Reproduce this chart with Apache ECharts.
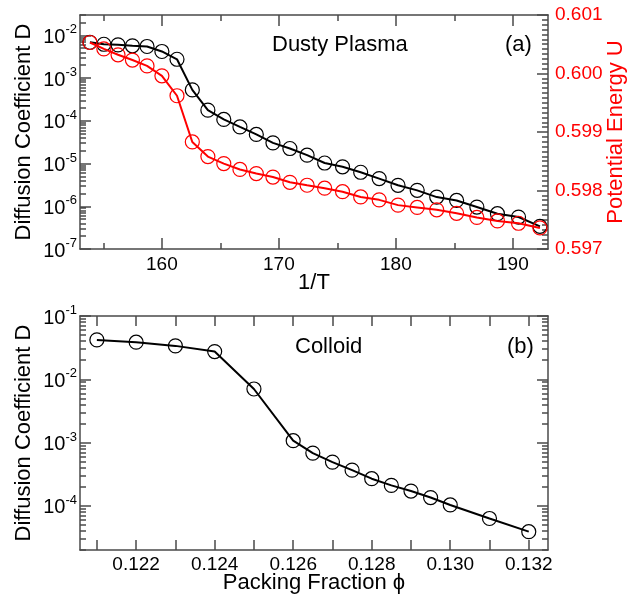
<!DOCTYPE html>
<html>
<head>
<meta charset="utf-8">
<script src="https://cdn.jsdelivr.net/npm/echarts@6/dist/echarts.min.js"></script>
<style>
html,body{margin:0;padding:0;background:#fff;}
#chart{width:632px;height:600px;}
</style>
</head>
<body>
<div id="chart"></div>
<script>
// ---- Data: panel (a) Dusty Plasma ----
const invT = [153.85,155.04,156.25,157.48,158.73,160.00,161.29,162.60,163.93,165.29,166.67,168.07,169.49,170.94,172.41,173.91,175.44,176.99,178.57,180.18,181.82,183.49,185.19,186.92,188.68,190.48,192.31];
const plasmaD = [6.9e-3,6.2e-3,6.0e-3,5.7e-3,5.5e-3,4.2e-3,2.76e-3,5.3e-4,1.78e-4,1.08e-4,7.2e-5,4.8e-5,3.05e-5,2.25e-5,1.57e-5,1.03e-5,8.4e-6,6.25e-6,4.45e-6,3.1e-6,2.36e-6,1.64e-6,1.37e-6,9.6e-7,6.7e-7,5.6e-7,3.4e-7];
const plasmaU = [0.60053,0.60042,0.60032,0.60023,0.60013,0.59996,0.59962,0.59883,0.59858,0.59846,0.59836,0.59829,0.59823,0.59814,0.59809,0.59804,0.59798,0.59789,0.59784,0.59775,0.59771,0.59767,0.59761,0.59754,0.59748,0.59744,0.59736];

// ---- Data: panel (b) Colloid ----
const phi = [0.121,0.122,0.123,0.124,0.125,0.126,0.1265,0.127,0.1275,0.128,0.1285,0.129,0.1295,0.130,0.131,0.132];
const colloidD = [0.0419,0.0386,0.0337,0.0274,0.00702,0.00107,6.8e-4,4.9e-4,3.66e-4,2.68e-4,2.1e-4,1.71e-4,1.35e-4,1.03e-4,6.3e-5,3.9e-5];

// ---- Tick values ----
const topXMajor = [160,170,180,190];
const topXMinor = [155,165,175,185];
const topYLogMajor = [1e-7,1e-6,1e-5,1e-4,1e-3,1e-2];
const botXTicks = [0.121,0.122,0.123,0.124,0.125,0.126,0.127,0.128,0.129,0.130,0.131,0.132];
const botXLabels = [0.122,0.124,0.126,0.128,0.130,0.132];
const botYLogMajor = [1e-4,1e-3,1e-2,1e-1];

function logMinor(lo, hi) {
  const out = [];
  for (let k = -8; k <= 0; k++) {
    for (let m = 2; m <= 9; m++) {
      const v = parseFloat((m * Math.pow(10, k)).toPrecision(6));
      if (v >= lo && v <= hi) out.push(v);
    }
  }
  return out;
}

const FONT = '"Liberation Sans", Arial, Helvetica, sans-serif';
const FRAME = '#4a4a4a';
const lineStyle = { color: FRAME, width: 1.5 };
const tickStyle = { color: FRAME, width: 1.5 };

function powLabel(v) {
  const e = Math.round(Math.log10(v));
  return '{b|10}{s|' + e + '}';
}
const powRich = {
  b: { fontSize: 20, fontFamily: FONT, color: '#000', verticalAlign: 'bottom', lineHeight: 24 },
  s: { fontSize: 13, fontFamily: FONT, color: '#000', verticalAlign: 'top', lineHeight: 13 }
};

function xAx(grid, pos, min, max, tickVals, len, opts) {
  return Object.assign({
    type: 'value', gridIndex: grid, position: pos, min: min, max: max,
    axisLine: { show: false, lineStyle: lineStyle },
    axisTick: { show: true, inside: true, length: len, customValues: tickVals, lineStyle: tickStyle },
    axisLabel: { show: false },
    splitLine: { show: false }
  }, opts || {});
}

const chart = echarts.init(document.getElementById('chart'), null, { renderer: 'canvas' });

const option = {
  animation: false,
  backgroundColor: '#fff',
  grid: [
    { left: 80, top: 15, width: 468, height: 234, outerBoundsMode: 'none' },
    { left: 80, top: 316, width: 468, height: 234, outerBoundsMode: 'none' }
  ],
  xAxis: [
    xAx(0, 'bottom', 153, 193, topXMajor, 11, {
      axisLine: { show: true, lineStyle: lineStyle },
      axisLabel: { show: true, customValues: topXMajor, fontSize: 19, fontFamily: FONT, color: '#000', margin: 6 },
      name: '1/T', nameLocation: 'middle', nameGap: 23, nameMoveOverlap: false,
      nameTextStyle: { fontSize: 22, fontFamily: FONT, color: '#000' }
    }),
    xAx(0, 'bottom', 153, 193, topXMinor, 6),
    xAx(0, 'top', 153, 193, topXMajor, 11, { axisLine: { show: true, lineStyle: lineStyle } }),
    xAx(0, 'top', 153, 193, topXMinor, 6),
    xAx(1, 'bottom', 0.12057, 0.13249, botXTicks, 10, {
      axisLine: { show: true, lineStyle: lineStyle },
      axisLabel: { show: true, customValues: botXLabels, fontSize: 19, fontFamily: FONT, color: '#000', margin: 5,
        formatter: v => v.toFixed(3) },
      name: 'Packing Fraction \u03D5', nameLocation: 'middle', nameGap: 22, nameMoveOverlap: false,
      nameTextStyle: { fontSize: 22, fontFamily: FONT, color: '#000' }
    }),
    xAx(1, 'top', 0.12057, 0.13249, botXTicks, 10, { axisLine: { show: true, lineStyle: lineStyle } })
  ],
  yAxis: [
    // 0: panel (a) left log, major ticks + labels
    xAx(0, 'left', 1e-7, 3e-2, topYLogMajor, 11, {
      type: 'log', logBase: 10,
      axisLine: { show: true, lineStyle: lineStyle },
      axisLabel: { show: true, customValues: topYLogMajor, margin: 3, formatter: powLabel, rich: powRich },
      name: 'Diffusion Coefficient D', nameLocation: 'middle', nameGap: 45, nameRotate: 90, nameMoveOverlap: false,
      nameTextStyle: { fontSize: 22, fontFamily: FONT, color: '#000' }
    }),
    // 1: panel (a) left log minor ticks
    xAx(0, 'left', 1e-7, 3e-2, logMinor(1e-7, 3e-2), 6, { type: 'log', logBase: 10 }),
    // 2: panel (a) right potential energy
    {
      type: 'value', gridIndex: 0, position: 'right', min: 0.597, max: 0.601, interval: 0.001,
      axisLine: { show: true, lineStyle: lineStyle },
      axisTick: { show: true, inside: true, length: 11, lineStyle: tickStyle },
      minorTick: { show: true, splitNumber: 12, length: 6, lineStyle: tickStyle },
      axisLabel: { show: true, fontSize: 19, fontFamily: FONT, color: '#ff0000', margin: 7,
        formatter: v => v.toFixed(3) },
      splitLine: { show: false }, minorSplitLine: { show: false },
      name: 'Potential Energy U', nameLocation: 'middle', nameGap: 57, nameRotate: 90, nameMoveOverlap: false,
      nameTextStyle: { fontSize: 22, fontFamily: FONT, color: '#ff0000' }
    },
    // 3: panel (b) left log, major ticks + labels
    xAx(1, 'left', 2e-5, 1e-1, botYLogMajor, 11, {
      type: 'log', logBase: 10,
      axisLine: { show: true, lineStyle: lineStyle },
      axisLabel: { show: true, customValues: botYLogMajor, margin: 3, formatter: powLabel, rich: powRich },
      name: 'Diffusion Coefficient D', nameLocation: 'middle', nameGap: 45, nameRotate: 90, nameMoveOverlap: false,
      nameTextStyle: { fontSize: 22, fontFamily: FONT, color: '#000' }
    }),
    // 4: panel (b) left log minor
    xAx(1, 'left', 2e-5, 1e-1, logMinor(2e-5, 1e-1), 6, { type: 'log', logBase: 10 }),
    // 5: panel (b) right log major
    xAx(1, 'right', 2e-5, 1e-1, botYLogMajor, 11, { type: 'log', logBase: 10, axisLine: { show: true, lineStyle: lineStyle } }),
    // 6: panel (b) right log minor
    xAx(1, 'right', 2e-5, 1e-1, logMinor(2e-5, 1e-1), 6, { type: 'log', logBase: 10 })
  ],
  series: [
    {
      type: 'line', xAxisIndex: 0, yAxisIndex: 0, z: 3,
      data: invT.map((x, i) => [x, plasmaD[i]]),
      symbol: 'circle', symbolSize: 14,
      lineStyle: { color: '#000', width: 2 },
      itemStyle: { color: 'rgba(0,0,0,0)', borderColor: '#000', borderWidth: 1.2 }
    },
    {
      type: 'line', xAxisIndex: 0, yAxisIndex: 2, z: 4,
      data: invT.map((x, i) => [x, plasmaU[i]]),
      symbol: 'circle', symbolSize: 14,
      lineStyle: { color: '#ff0000', width: 2 },
      itemStyle: { color: 'rgba(0,0,0,0)', borderColor: '#ff0000', borderWidth: 1.2 }
    },
    {
      type: 'line', xAxisIndex: 4, yAxisIndex: 3, z: 3,
      data: phi.map((x, i) => [x, colloidD[i]]),
      symbol: 'circle', symbolSize: 14,
      lineStyle: { color: '#000', width: 2 },
      itemStyle: { color: 'rgba(0,0,0,0)', borderColor: '#000', borderWidth: 1.2 }
    }
  ],
  graphic: [
    { type: 'text', left: 272, top: 34, style: { text: 'Dusty Plasma', fontSize: 22, fontFamily: FONT, fill: '#000' } },
    { type: 'text', left: 505, top: 34, style: { text: '(a)', fontSize: 22, fontFamily: FONT, fill: '#000' } },
    { type: 'text', left: 295, top: 336, style: { text: 'Colloid', fontSize: 22, fontFamily: FONT, fill: '#000' } },
    { type: 'text', left: 507, top: 336, style: { text: '(b)', fontSize: 22, fontFamily: FONT, fill: '#000' } }
  ]
};
chart.setOption(option);
</script>
</body>
</html>
